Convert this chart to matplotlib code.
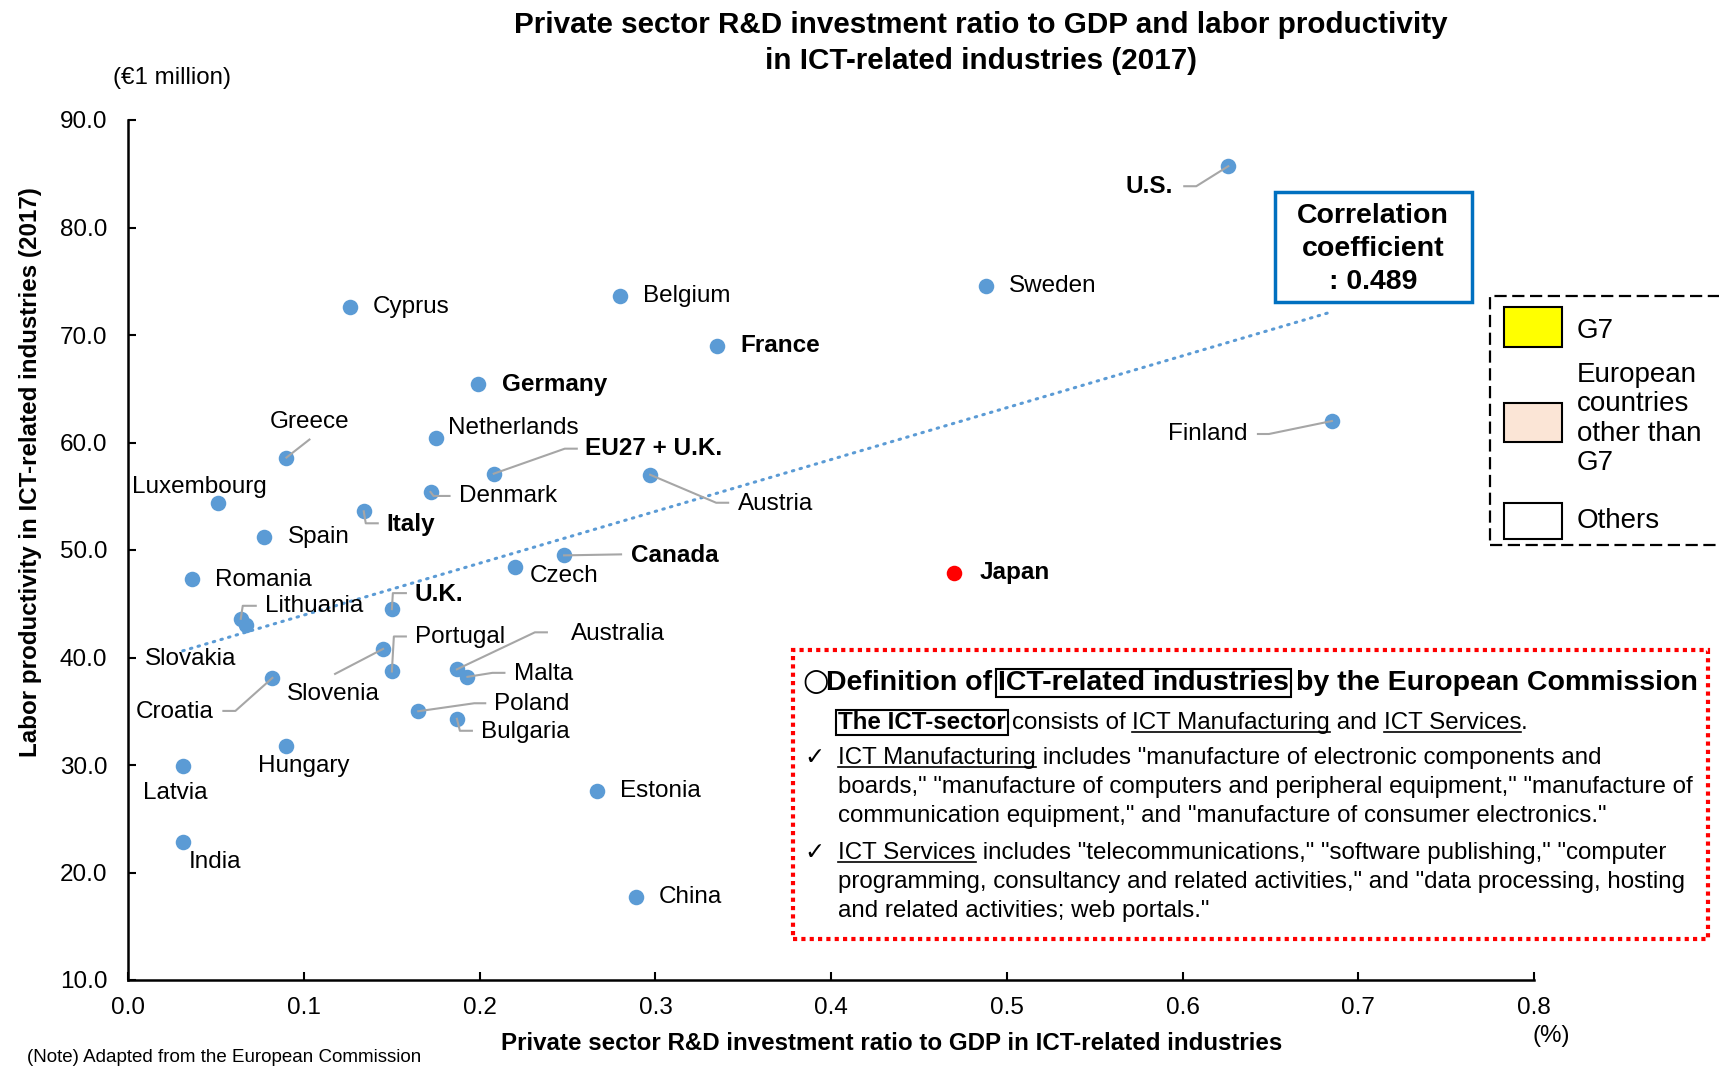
import numpy as np
import matplotlib
matplotlib.use("Agg")
import matplotlib.pyplot as plt
import matplotlib.transforms as mtransforms
from matplotlib.patches import Rectangle

plt.rcParams['font.family'] = ['Liberation Sans', 'DejaVu Sans']

# data
countries = ["U.S.", "Sweden", "Belgium", "Cyprus", "France", "Germany", "Finland",
             "Netherlands", "Greece", "EU27 + U.K.", "Austria", "Denmark", "Luxembourg",
             "Italy", "Spain", "Canada", "Czech", "Romania", "U.K.", "Lithuania",
             "Slovakia", "Slovenia", "Portugal", "Australia", "Malta", "Croatia",
             "Poland", "Bulgaria", "Hungary", "Latvia", "Estonia", "India", "China"]
rd_ratio = [0.626, 0.488, 0.280, 0.126, 0.335, 0.199, 0.685,
            0.175, 0.090, 0.208, 0.297, 0.172, 0.051,
            0.134, 0.077, 0.248, 0.220, 0.036, 0.150, 0.064,
            0.067, 0.145, 0.150, 0.187, 0.193, 0.082,
            0.165, 0.187, 0.090, 0.031, 0.267, 0.031, 0.289]
productivity = [85.7, 74.6, 73.6, 72.6, 69.0, 65.4, 62.0,
                60.4, 58.6, 57.1, 57.0, 55.4, 54.4,
                53.6, 51.2, 49.5, 48.4, 47.3, 44.5, 43.6,
                43.0, 40.8, 38.7, 38.9, 38.2, 38.1,
                35.0, 34.3, 31.8, 29.9, 27.6, 22.8, 17.7]
japan_rd = 0.470
japan_prod = 47.9
bold_names = {"U.S.", "France", "Germany", "Italy", "Canada", "U.K.", "EU27 + U.K.", "Japan"}
corr_text = "Correlation\ncoefficient\n: 0.489"

# label placement: text offset (px, y down), alignment, leader vertices (px, y down)
layout = {
    "U.S.": (-55, 20, "right", [(0, 0), (-32, 20), (-44, 20)]),
    "Sweden": (23, 0, "left", None),
    "Belgium": (23, 0, "left", None),
    "Cyprus": (23, 0, "left", None),
    "France": (23, 0, "left", None),
    "Germany": (24, 0, "left", None),
    "Finland": (-84, 13, "right", [(0, 0), (-63, 13), (-74, 13)]),
    "Netherlands": (12, -10, "left", None),
    "Greece": (23, -36, "center", [(0, 0), (23, -18)]),
    "EU27 + U.K.": (91, -25, "left", [(0, 0), (71, -25), (83, -25)]),
    "Austria": (88, 29, "left", [(0, 0), (66, 28), (78, 28)]),
    "Denmark": (28, 4, "left", [(0, 0), (3, 4), (19, 4)]),
    "Luxembourg": (-19, -16, "center", None),
    "Italy": (23, 13, "left", [(0, 0), (2, 12), (14, 12)]),
    "Spain": (24, 0, "left", None),
    "Canada": (67, 0, "left", [(0, 0), (57, -1)]),
    "Czech": (15, 9, "left", None),
    "Romania": (23, 1, "left", None),
    "U.K.": (23, -15, "left", [(0, 0), (1, -16), (14, -16)]),
    "Lithuania": (24, -13, "left", [(0, 0), (2, -13), (15, -13)]),
    "Slovakia": (-55, 34, "center", None),
    "Slovenia": (-50, 45, "center", [(0, 0), (-48, 25)]),
    "Portugal": (23, -34, "left", [(0, 0), (2, -35), (14, -35)]),
    "Australia": (114, -35, "left", [(0, 0), (78, -37), (90, -37)]),
    "Malta": (47, -3, "left", [(0, 0), (25, -4), (37, -4)]),
    "Croatia": (-59, 34, "right", [(0, 0), (-37, 33), (-49, 33)]),
    "Poland": (76, -7, "left", [(0, 0), (56, -8), (67, -8)]),
    "Bulgaria": (24, 13, "left", [(0, 0), (3, 12), (15, 12)]),
    "Hungary": (17, 20, "center", None),
    "Latvia": (-8, 27, "center", None),
    "Estonia": (23, 0, "left", None),
    "India": (32, 20, "center", None),
    "China": (23, 0, "left", None),
}

W, H = 1719, 1066
BLUE = "#5B9BD5"
GREY = "#A6A6A6"
FS = 17.5


def fxy(x, y):
    # pixel position (y down) -> figure fraction
    return x / W, 1 - y / H


fig = plt.figure(figsize=(W / 100, H / 100), dpi=100)
ax = fig.add_axes([128.3 / W, 1 - 980 / H, (1534 - 128.3) / W, (980 - 120) / H])
ax.set_xlim(0, 0.8)
ax.set_ylim(10, 90)
ax.set_xticks(np.arange(0, 0.81, 0.1))
ax.set_yticks(np.arange(10, 91, 10))
ax.xaxis.set_major_formatter(matplotlib.ticker.FormatStrFormatter('%.1f'))
ax.yaxis.set_major_formatter(matplotlib.ticker.FormatStrFormatter('%.1f'))
ax.tick_params(direction='in', length=6, width=1.5, labelsize=FS, colors='black')
ax.tick_params(axis='y', pad=15)
ax.tick_params(axis='x', pad=12)
for s in ['top', 'right']:
    ax.spines[s].set_visible(False)
for s in ['left', 'bottom']:
    ax.spines[s].set_linewidth(1.8)

# linear trend line over all countries, Japan included
xs = np.append(rd_ratio, japan_rd)
ys = np.append(productivity, japan_prod)
slope, intercept = np.polyfit(xs, ys, 1)
tx = np.array([xs.min(), xs.max()])
ax.plot(tx, slope * tx + intercept, color=BLUE, lw=2.2, linestyle=(0, (0.5, 2.1)),
        dash_capstyle='round', zorder=2)

ax.scatter(rd_ratio, productivity, s=125, color=BLUE, zorder=3, linewidths=0)
ax.scatter([japan_rd], [japan_prod], s=125, color="#FF0000", zorder=3, linewidths=0)

for name, x, y in zip(countries, rd_ratio, productivity):
    dx, dy, ha, leader = layout[name]
    if leader:
        tr = mtransforms.ScaledTranslation(x, y, ax.transData)
        vx = [v[0] for v in leader]
        vy = [-v[1] for v in leader]
        ax.plot(vx, vy, color=GREY, lw=1.5, transform=tr, clip_on=False, zorder=4)
    ax.annotate(name, (x, y), xytext=(dx, -dy), textcoords='offset pixels',
                ha=ha, va='center', fontsize=FS,
                fontweight='bold' if name in bold_names else 'normal')
ax.annotate("Japan", (japan_rd, japan_prod), xytext=(25, 0), textcoords='offset pixels',
            ha='left', va='center', fontsize=FS, fontweight='bold')

# titles and axis texts
fig.text(*fxy(981, 43), "Private sector R&D investment ratio to GDP and labor productivity\n"
         "in ICT-related industries (2017)", ha='center', va='center', fontsize=21.3,
         fontweight='bold', linespacing=1.32)
fig.text(*fxy(172, 78), "(€1 million)", ha='center', va='center', fontsize=17.4)
fig.text(*fxy(31, 472), "Labor productivity in ICT-related industries (2017)", rotation=90,
         ha='center', va='center', fontsize=17.4, fontweight='bold')
fig.text(*fxy(892, 1044), "Private sector R&D investment ratio to GDP in ICT-related industries",
         ha='center', va='center', fontsize=17.4, fontweight='bold')
fig.text(*fxy(1551, 1036), "(%)", ha='center', va='center', fontsize=17.4)
fig.text(*fxy(27, 1062), "(Note) Adapted from the European Commission", ha='left',
         va='baseline', fontsize=13.5)

# correlation box
fig.patches.append(Rectangle(fxy(1275, 302), (1472 - 1275) / W, (302 - 192) / H,
                             transform=fig.transFigure, fill=False, ec="#0070C0", lw=2.5))
fig.text(*fxy(1373, 249), corr_text, ha='center', va='center', fontsize=20.5,
         fontweight='bold', linespacing=1.33)

# legend box (dashed, runs off the right edge)
fig.patches.append(Rectangle(fxy(1490, 545), (1760 - 1490) / W, (545 - 296) / H,
                             transform=fig.transFigure, fill=False, ec='black', lw=1.6,
                             linestyle=(0, (5.5, 2.5))))
legend_items = [("G7", "#FFFF00", 307, 347, 331),
                ("European\ncountries\nother than\nG7", "#FBE5D6", 403, 442, 419),
                ("Others", "white", 503, 539, 521)]
for label, col, y0, y1, ty in legend_items:
    fig.patches.append(Rectangle(fxy(1504, y1), (1562 - 1504) / W, (y1 - y0) / H,
                                 transform=fig.transFigure, fc=col, ec='black', lw=1.5))
    fig.text(*fxy(1577, ty), label, ha='left', va='center', fontsize=20, linespacing=1.17)

# definition box
fig.patches.append(Rectangle(fxy(793, 939), (1708 - 793) / W, (939 - 650) / H,
                             transform=fig.transFigure, fill=False, ec='#FF0000', lw=3,
                             linestyle=(0, (1, 1))))

renderer = fig.canvas.get_renderer()


def draw_runs(x, y, runs, size):
    # y is the baseline in pixels (y down); each run: text, style, weight, gap before
    for txt, style, weight, gap in runs:
        x += gap
        t = fig.text(*fxy(x, y), txt, ha='left', va='baseline', fontsize=size,
                     fontweight=weight)
        bb = t.get_window_extent(renderer)
        if style == 'u':
            fig.add_artist(plt.Line2D([bb.x0 / W, bb.x1 / W], [(bb.y0 + 2) / H] * 2,
                                      color='black', lw=1.2))
        elif style == 'box':
            fig.patches.append(Rectangle(((bb.x0 - 2) / W, (bb.y0 - 1) / H),
                                         (bb.width + 4) / W, (bb.height + 2) / H,
                                         transform=fig.transFigure, fill=False,
                                         ec='black', lw=1.5))
        x = bb.x1


BODY = 17.4
fig.text(*fxy(802, 690), "○", ha='left', va='baseline', fontsize=22,
         family='DejaVu Sans')
draw_runs(826, 690, [("Definition of", None, 'bold', 0),
                     ("ICT-related industries", 'box', 'bold', 6),
                     ("by the European Commission", None, 'bold', 7)], 20.5)
draw_runs(838, 729, [("The ICT-sector", 'box', 'bold', 0), ("consists of ", None, 'normal', 6),
                     ("ICT Manufacturing", 'u', 'normal', 0), (" and ", None, 'normal', 0),
                     ("ICT Services", 'u', 'normal', 0), (".", None, 'normal', 0)], BODY)
fig.text(*fxy(804, 764), "✓", ha='left', va='baseline', fontsize=BODY)
draw_runs(838, 764, [("ICT Manufacturing", 'u', 'normal', 0),
                     (' includes "manufacture of electronic components and', None, 'normal', 0)], BODY)
draw_runs(838, 793, [('boards," "manufacture of computers and peripheral equipment," "manufacture of',
                      None, 'normal', 0)], BODY)
draw_runs(838, 822, [('communication equipment," and "manufacture of consumer electronics."',
                      None, 'normal', 0)], BODY)
fig.text(*fxy(804, 859), "✓", ha='left', va='baseline', fontsize=BODY)
draw_runs(838, 859, [("ICT Services", 'u', 'normal', 0),
                     (' includes "telecommunications," "software publishing," "computer', None, 'normal', 0)], BODY)
draw_runs(838, 888, [('programming, consultancy and related activities," and "data processing, hosting',
                      None, 'normal', 0)], BODY)
draw_runs(838, 917, [('and related activities; web portals."', None, 'normal', 0)], BODY)

fig.savefig("out.png", dpi=100)
